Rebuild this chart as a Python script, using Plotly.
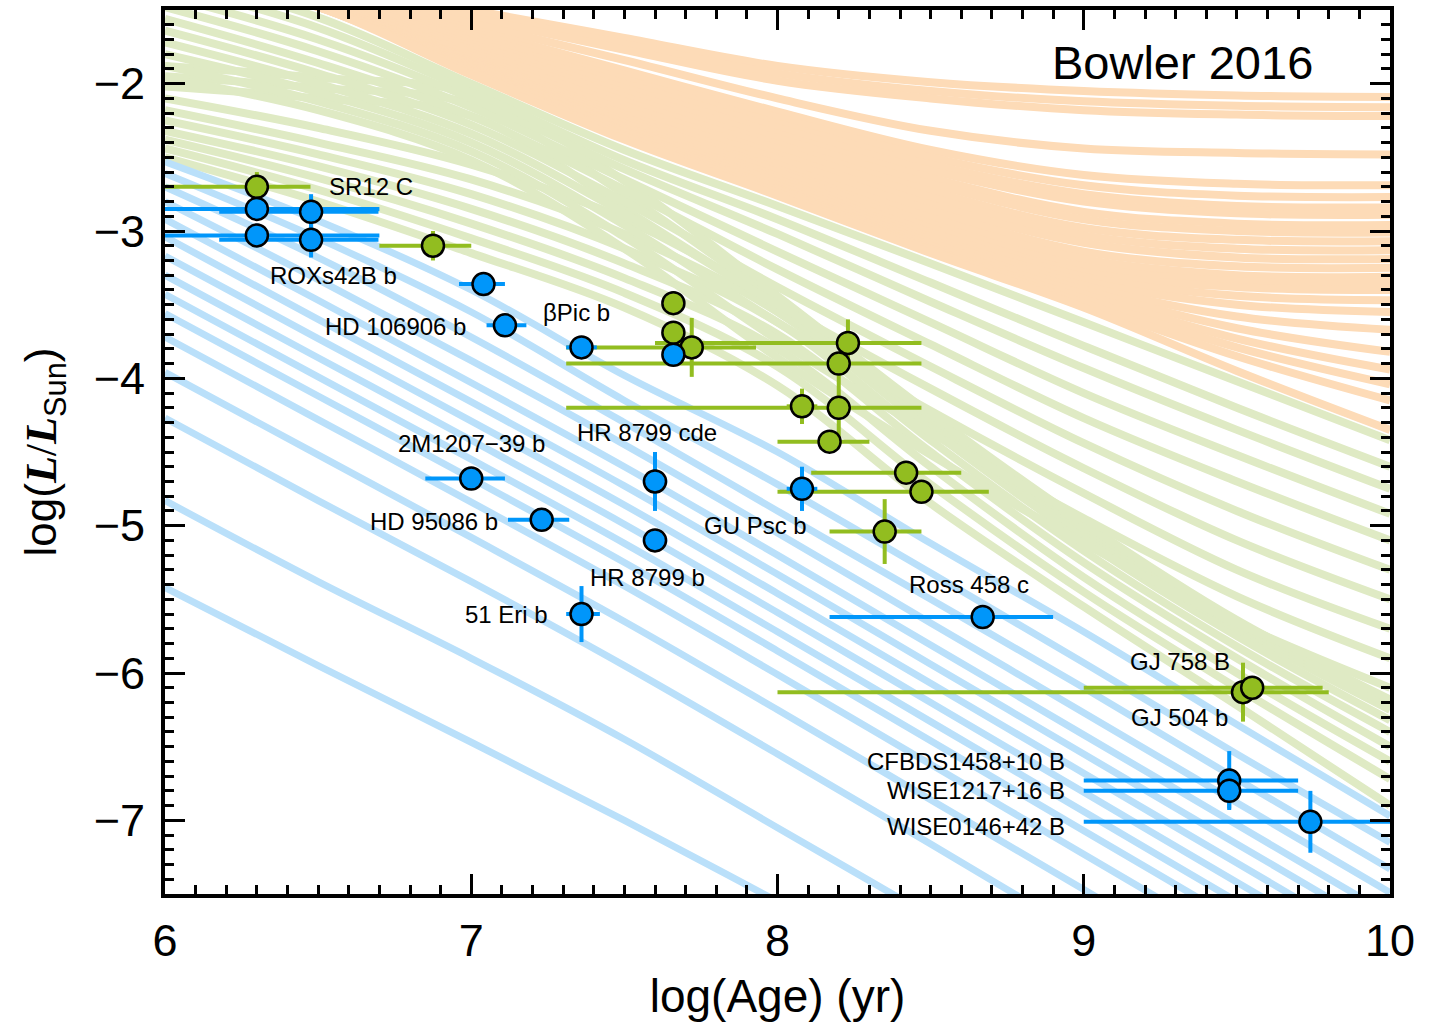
import plotly.graph_objects as go

# ---------------- evolutionary tracks (log L at these log ages) ----------------
X_KNOTS = [6.0, 6.5, 7.0, 7.5, 8.0, 8.5, 9.0, 9.5, 10.0]

BLUE_TRACKS = [
    [-5.42, -5.95, -6.47, -7.00, -7.55, -8.10, -8.65, -9.20, -9.75],
    [-4.83, -5.38, -5.90, -6.45, -7.05, -7.65, -8.25, -8.85, -9.45],
    [-4.27, -4.83, -5.38, -5.95, -6.55, -7.16, -7.78, -8.40, -9.00],
    [-3.96, -4.52, -5.08, -5.65, -6.25, -6.86, -7.47, -8.08, -8.70],
    [-3.72, -4.28, -4.84, -5.41, -6.01, -6.62, -7.23, -7.84, -8.45],
    [-3.56, -4.12, -4.68, -5.25, -5.85, -6.46, -7.07, -7.68, -8.29],
    [-3.43, -3.99, -4.55, -5.12, -5.72, -6.33, -6.94, -7.55, -8.16],
    [-3.30, -3.86, -4.42, -4.99, -5.59, -6.20, -6.81, -7.42, -8.03],
    [-3.17, -3.73, -4.29, -4.86, -5.46, -6.07, -6.68, -7.29, -7.90],
    [-3.04, -3.60, -4.16, -4.73, -5.33, -5.94, -6.55, -7.16, -7.77],
    [-2.92, -3.47, -4.03, -4.60, -5.20, -5.81, -6.42, -7.03, -7.64],
    [-2.80, -3.33, -3.88, -4.45, -5.05, -5.66, -6.27, -6.88, -7.49],
    [-2.70, -3.18, -3.72, -4.30, -4.90, -5.50, -6.10, -6.72, -7.33],
    [-2.61, -3.05, -3.55, -4.15, -4.72, -5.32, -5.93, -6.55, -7.15],
    [-2.53, -2.93, -3.40, -3.98, -4.50, -5.12, -5.72, -6.35, -6.97],
]

GREEN_TRACKS = [
    [-2.50, -2.80, -3.15, -3.52, -4.05, -4.85, -5.55, -6.22, -6.90],
    [-2.44, -2.72, -3.05, -3.42, -3.92, -4.72, -5.45, -6.10, -6.72],
    [-2.38, -2.64, -2.95, -3.32, -3.80, -4.60, -5.35, -6.00, -6.60],
    [-2.32, -2.56, -2.85, -3.22, -3.70, -4.50, -5.25, -5.90, -6.50],
    [-2.25, -2.48, -2.75, -3.12, -3.62, -4.42, -5.17, -5.82, -6.40],
    [-2.18, -2.40, -2.65, -3.02, -3.55, -4.35, -5.10, -5.75, -6.32],
    [-2.10, -2.30, -2.55, -2.92, -3.50, -4.30, -5.05, -5.70, -6.25],
    [-2.02, -2.10, -2.22, -2.85, -3.52, -4.28, -5.02, -5.68, -6.22],
    [-1.95, -2.03, -2.14, -2.75, -3.48, -4.26, -5.00, -5.66, -6.20],
    [-1.88, -1.96, -2.07, -2.66, -3.44, -4.24, -4.98, -5.64, -6.18],
    [-1.96, -2.18, -2.52, -3.12, -3.86, -4.52, -5.12, -5.66, -6.10],
    [-1.88, -2.12, -2.46, -3.04, -3.74, -4.37, -4.95, -5.48, -5.90],
    [-1.80, -2.06, -2.40, -2.96, -3.62, -4.22, -4.78, -5.30, -5.70],
    [-1.72, -2.00, -2.34, -2.88, -3.50, -4.07, -4.61, -5.10, -5.50],
    [-1.64, -1.93, -2.28, -2.80, -3.38, -3.92, -4.44, -4.90, -5.30],
    [-1.56, -1.86, -2.22, -2.72, -3.26, -3.77, -4.27, -4.70, -5.10],
    [-1.48, -1.78, -2.16, -2.65, -3.14, -3.62, -4.10, -4.52, -4.92],
    [-1.40, -1.70, -2.10, -2.58, -3.02, -3.48, -3.93, -4.35, -4.75],
    [-1.32, -1.62, -2.05, -2.52, -2.92, -3.35, -3.78, -4.20, -4.60],
    [-1.25, -1.55, -2.00, -2.45, -2.83, -3.22, -3.62, -4.02, -4.42],
]

ORANGE_TRACKS = [
    [-1.10, -1.30, -1.50, -1.69, -1.88, -1.99, -2.05, -2.08, -2.09],
    [-1.11, -1.32, -1.53, -1.73, -1.93, -2.05, -2.12, -2.15, -2.16],
    [-1.12, -1.33, -1.55, -1.77, -1.98, -2.10, -2.18, -2.21, -2.22],
    [-1.13, -1.35, -1.59, -1.84, -2.10, -2.32, -2.44, -2.47, -2.48],
    [-1.14, -1.37, -1.63, -1.91, -2.19, -2.45, -2.62, -2.68, -2.69],
    [-1.15, -1.38, -1.65, -1.94, -2.23, -2.50, -2.69, -2.76, -2.77],
    [-1.15, -1.39, -1.67, -1.97, -2.27, -2.55, -2.75, -2.83, -2.84],
    [-1.16, -1.40, -1.69, -2.00, -2.30, -2.59, -2.80, -2.88, -2.89],
    [-1.16, -1.41, -1.71, -2.03, -2.34, -2.64, -2.87, -2.95, -2.96],
    [-1.17, -1.42, -1.73, -2.06, -2.37, -2.68, -2.92, -3.00, -3.01],
    [-1.17, -1.43, -1.75, -2.09, -2.41, -2.73, -2.98, -3.06, -3.07],
    [-1.18, -1.44, -1.77, -2.12, -2.44, -2.77, -3.03, -3.12, -3.13],
    [-1.18, -1.45, -1.79, -2.15, -2.48, -2.82, -3.08, -3.18, -3.19],
    [-1.19, -1.45, -1.81, -2.18, -2.51, -2.86, -3.14, -3.24, -3.25],
    [-1.19, -1.46, -1.83, -2.21, -2.55, -2.91, -3.19, -3.30, -3.31],
    [-1.20, -1.46, -1.84, -2.23, -2.58, -2.95, -3.24, -3.34, -3.35],
    [-1.20, -1.46, -1.85, -2.25, -2.60, -2.98, -3.28, -3.38, -3.40],
    [-1.20, -1.47, -1.86, -2.27, -2.63, -3.01, -3.31, -3.44, -3.47],
    [-1.21, -1.47, -1.87, -2.29, -2.65, -3.04, -3.34, -3.50, -3.55],
    [-1.21, -1.47, -1.88, -2.30, -2.67, -3.06, -3.37, -3.58, -3.67],
    [-1.21, -1.47, -1.89, -2.32, -2.69, -3.08, -3.40, -3.66, -3.82],
    [-1.22, -1.48, -1.90, -2.33, -2.71, -3.10, -3.43, -3.73, -3.94],
    [-1.22, -1.48, -1.91, -2.35, -2.72, -3.12, -3.46, -3.79, -4.04],
    [-1.22, -1.48, -1.92, -2.36, -2.74, -3.13, -3.49, -3.85, -4.15],
    [-1.23, -1.48, -1.94, -2.38, -2.76, -3.15, -3.52, -3.95, -4.35],
]

# ---------------- objects ----------------
PLANET_AGE = [6.30, 6.477, 6.30, 6.477, 7.04, 7.11, 7.36, 7.66, 7.00, 7.23, 7.60, 7.60, 7.36, 8.08, 8.67, 9.475, 9.475, 9.74]
PLANET_LUM = [-2.85, -2.87, -3.03, -3.06, -3.36, -3.64, -3.79, -3.84, -4.68, -4.96, -4.70, -5.10, -5.60, -4.75, -5.62, -6.73, -6.80, -7.01]
PLANET_AGE_ERR_LO = [0.50, 0.30, 0.50, 0.30, 0.08, 0.06, 0.05, 0.03, 0.15, 0.11, 0.04, 0.04, 0.05, 0.05, 0.50, 0.475, 0.475, 0.74]
PLANET_AGE_ERR_HI = [0.40, 0.22, 0.40, 0.22, 0.07, 0.07, 0.05, 0.03, 0.11, 0.09, 0.04, 0.04, 0.06, 0.05, 0.23, 0.225, 0.225, 0.40]
PLANET_LUM_ERR = [0.08, 0.12, 0.08, 0.12, 0.03, 0.03, 0.03, 0.03, 0.03, 0.03, 0.20, 0.07, 0.19, 0.15, 0.03, 0.20, 0.12, 0.21]

BD_AGE = [6.30, 6.875, 7.66, 7.66, 7.72, 8.23, 8.20, 8.20, 8.08, 8.17, 8.42, 8.47, 8.35, 9.52, 9.55]
BD_LUM = [-2.70, -3.10, -3.49, -3.69, -3.79, -3.76, -3.90, -4.20, -4.19, -4.43, -4.64, -4.77, -5.04, -6.13, -6.10]
BD_AGE_ERR_LO = [0.40, 0.175, 0.02, 0.03, 0.41, 0.63, 0.89, 0.89, 0.05, 0.17, 0.31, 0.47, 0.18, 1.52, 0.55]
BD_AGE_ERR_HI = [0.175, 0.125, 0.02, 0.03, 0.21, 0.24, 0.27, 0.27, 0.05, 0.13, 0.18, 0.22, 0.12, 0.28, 0.23]
BD_LUM_ERR = [0.10, 0.10, 0.08, 0.05, 0.20, 0.16, 0.05, 0.24, 0.12, 0.06, 0.05, 0.05, 0.22, 0.20, 0.05]

LABEL_TEXT = ["SR12 C", "ROXs42B b", "HD 106906 b", "βPic b", "2M1207−39 b", "HR 8799 cde",
              "HD 95086 b", "GU Psc b", "HR 8799 b", "51 Eri b", "Ross 458 c", "GJ 758 B",
              "GJ 504 b", "CFBDS1458+10 B", "WISE1217+16 B", "WISE0146+42 B"]
LABEL_X = [6.53, 6.55, 6.99, 7.345, 7.00, 7.574, 7.094, 7.927, 7.577, 7.257, 8.625, 9.314,
           9.314, 8.945, 8.945, 8.945]
LABEL_Y = [-2.70, -3.30, -3.645, -3.55, -4.44, -4.37, -4.97, -5.00, -5.35, -5.60, -5.40, -5.92,
           -6.30, -6.60, -6.80, -7.045]
LABEL_ANCHOR = ["left", "center", "right", "center", "center", "center", "right", "center",
                "center", "right", "center", "center", "center", "right", "right", "right"]

BLUE_TRACK_COLOR = "rgb(186,224,250)"
GREEN_TRACK_COLOR = "rgb(223,234,196)"
ORANGE_TRACK_COLOR = "rgb(253,219,183)"
BLUE = "rgb(0,150,250)"
GREEN = "rgb(146,189,32)"
FONT = "Liberation Sans, Arial, Helvetica, sans-serif"

fig = go.Figure()

def add_tracks(tracks, color, width):
    for t in tracks:
        fig.add_trace(go.Scatter(x=X_KNOTS, y=t, mode="lines",
                                 line=dict(color=color, width=width, shape="spline", smoothing=1.0),
                                 hoverinfo="skip", showlegend=False))

add_tracks(GREEN_TRACKS, GREEN_TRACK_COLOR, 8)
add_tracks(BLUE_TRACKS, BLUE_TRACK_COLOR, 7)
add_tracks(ORANGE_TRACKS, ORANGE_TRACK_COLOR, 8)

fig.add_trace(go.Scatter(
    x=BD_AGE, y=BD_LUM, mode="markers", showlegend=False,
    marker=dict(size=22, color=GREEN, line=dict(color="black", width=2.5)),
    error_x=dict(type="data", symmetric=False, array=BD_AGE_ERR_HI, arrayminus=BD_AGE_ERR_LO,
                 color=GREEN, thickness=4, width=0),
    error_y=dict(type="data", array=BD_LUM_ERR, color=GREEN, thickness=4, width=0),
))
fig.add_trace(go.Scatter(
    x=PLANET_AGE, y=PLANET_LUM, mode="markers", showlegend=False,
    marker=dict(size=22, color=BLUE, line=dict(color="black", width=2.5)),
    error_x=dict(type="data", symmetric=False, array=PLANET_AGE_ERR_HI, arrayminus=PLANET_AGE_ERR_LO,
                 color=BLUE, thickness=4, width=0),
    error_y=dict(type="data", array=PLANET_LUM_ERR, color=BLUE, thickness=4, width=0),
))

for t, x, y, a in zip(LABEL_TEXT, LABEL_X, LABEL_Y, LABEL_ANCHOR):
    fig.add_annotation(x=x, y=y, text=t, showarrow=False, xanchor=a, yanchor="middle",
                       font=dict(size=24, color="black", family=FONT))

fig.add_annotation(x=9.324, y=-1.857, text="Bowler 2016", showarrow=False,
                   xanchor="center", yanchor="middle", font=dict(size=47, color="black", family=FONT))

axis_common = dict(showline=True, linewidth=4, linecolor="black", mirror="allticks",
                   ticks="inside", ticklen=20, tickwidth=3, tickcolor="black",
                   showgrid=False, zeroline=False, automargin=False,
                   tickfont=dict(size=45, color="black", family=FONT),
                   minor=dict(ticks="inside", ticklen=9, tickwidth=3, tickcolor="black", dtick=0.1,
                              showgrid=False))

fig.update_layout(
    width=1441, height=1023,
    margin=dict(l=165, r=51, t=10, b=129),
    paper_bgcolor="white", plot_bgcolor="white",
    showlegend=False,
    font=dict(family=FONT, color="black"),
    xaxis=dict(range=[6, 10], dtick=1, tick0=6,
               title=dict(text="log(Age) (yr)", font=dict(size=46, family=FONT), standoff=16),
               ticklabelstandoff=4, **axis_common),
    yaxis=dict(range=[-7.5, -1.5], dtick=1, tick0=-7,
               title=dict(text="log(<span style=\"font-family:Liberation Serif\"><b><i>L</i></b>/<b><i>L</i></b></span><sub>Sun</sub>)",
                          font=dict(size=44, family=FONT), standoff=24),
               ticklabelstandoff=7, **axis_common),
)

fig.write_html("out.html")
